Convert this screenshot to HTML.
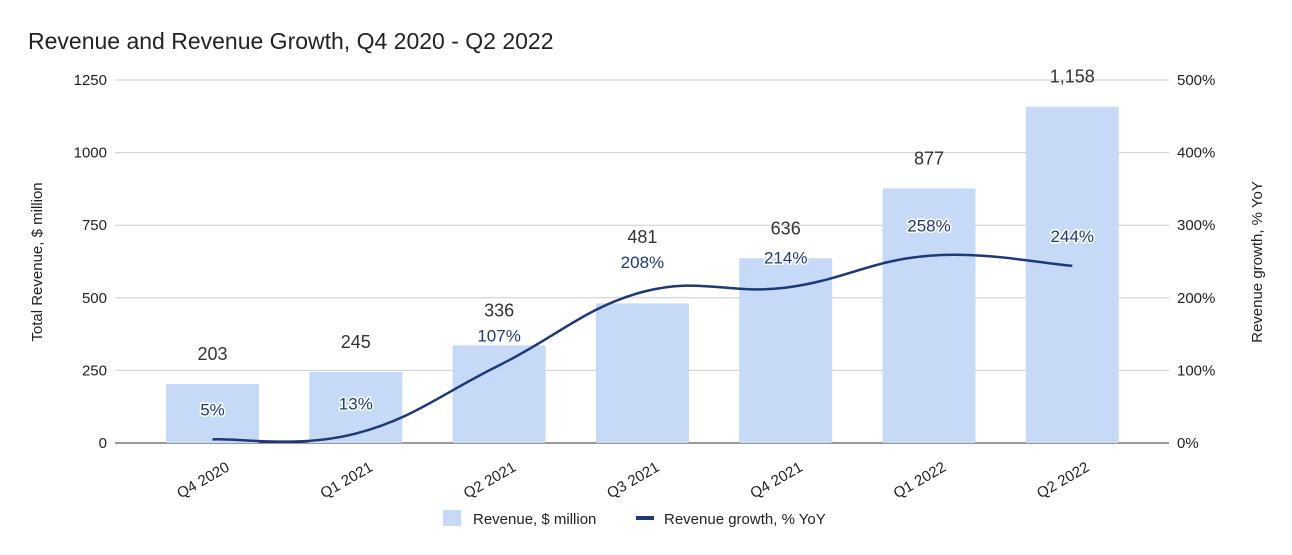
<!DOCTYPE html>
<html><head><meta charset="utf-8"><style>
body{margin:0;background:#fff;}
svg{display:block;font-family:"Liberation Sans",Arial,sans-serif;}
.pct{fill:#1c3a78;font-size:17px;text-anchor:middle;paint-order:stroke;stroke:#fff;stroke-width:3px;stroke-linejoin:round;}
</style></head><body>
<svg id="chart" width="1292" height="555">
<text x="28" y="49" font-size="23" fill="#222">Revenue and Revenue Growth, Q4 2020 - Q2 2022</text>
<g id="grid"></g><g id="bars"></g><g id="line"></g><g id="labels"></g>
<text transform="translate(42,262) rotate(-90)" text-anchor="middle" font-size="15" fill="#222">Total Revenue, $ million</text>
<text transform="translate(1262,262) rotate(-90)" text-anchor="middle" font-size="15" fill="#222">Revenue growth, % YoY</text>
<g>
<rect x="443" y="510" width="18" height="16" fill="#c6d9f7"/>
<text x="473" y="524" font-size="15" fill="#222">Revenue, $ million</text>
<rect x="636" y="516" width="18" height="4" fill="#1c3a78"/>
<text x="664" y="524" font-size="15" fill="#222">Revenue growth, % YoY</text>
</g>
</svg>
<script>
const categories=["Q4 2020","Q1 2021","Q2 2021","Q3 2021","Q4 2021","Q1 2022","Q2 2022"];
const revenue=[203,245,336,481,636,877,1158];
const revenueLabels=["203","245","336","481","636","877","1,158"];
const growth=[5,13,107,208,214,258,244];
const leftTicks=[0,250,500,750,1000,1250];
const rightTicks=[0,100,200,300,400,500];
const NS="http://www.w3.org/2000/svg";
const y0=443,y1=80,xL=115,xR=1169;
const yL=v=>y0-(v/1250)*(y0-y1);
const yR=v=>y0-(v/500)*(y0-y1);
const xC=i=>212.5+i*143.3;
function mk(t,a,p){const e=document.createElementNS(NS,t);for(const k in a)e.setAttribute(k,a[k]);document.getElementById(p).appendChild(e);return e;}
leftTicks.forEach((v,i)=>{
 const l=mk('line',{x1:xL,x2:xR,y1:yL(v),y2:yL(v),stroke:v===0?'#333':'#ccc','stroke-width':1},'grid');
 
 
 const t=mk('text',{x:107,y:yL(v)+5,'text-anchor':'end','font-size':15,fill:'#222'},'grid');t.textContent=v;
 
 
 const r=mk('text',{x:1177,y:yR(rightTicks[i])+5,'font-size':15,fill:'#222'},'grid');r.textContent=rightTicks[i]+'%';
 
 
});
categories.forEach((c,i)=>{
 const b=mk('rect',{x:xC(i)-46.5,y:yL(revenue[i]),width:93,height:y0-yL(revenue[i]),fill:'#c6d9f7',rx:1},'bars');
 
 
 const pY=yR(growth[i])-24;
 let rY=yL(revenue[i])-24;
 if(Math.abs(rY-pY)<22) rY=Math.min(rY,pY-25);
 const t=mk('text',{x:xC(i),y:rY,'text-anchor':'middle','font-size':18,fill:'#333'},'labels');t.textContent=revenueLabels[i];
 
 
 const p=mk('text',{x:xC(i),y:pY,class:'pct'},'labels');p.textContent=growth[i]+'%';
 
 
 const x=mk('text',{transform:`translate(${xC(i)+18},${470}) rotate(-30)`,'text-anchor':'end','font-size':15,fill:'#222'},'labels');x.textContent=c;
 
 
});
const pts=growth.map((g,i)=>[xC(i),yR(g)]);
let d=`M${pts[0][0]},${pts[0][1]}`;
for(let i=0;i<pts.length-1;i++){
 const p0=pts[Math.max(0,i-1)],p1=pts[i],p2=pts[i+1],p3=pts[Math.min(pts.length-1,i+2)];
 const k=0.2;
 d+=` C${p1[0]+(p2[0]-p0[0])*k},${p1[1]+(p2[1]-p0[1])*k} ${p2[0]-(p3[0]-p1[0])*k},${p2[1]-(p3[1]-p1[1])*k} ${p2[0]},${p2[1]}`;
}
const ln=mk('path',{d:d,fill:'none',stroke:'#1c3a78','stroke-width':2.5},'line');


</script>
</body></html>
